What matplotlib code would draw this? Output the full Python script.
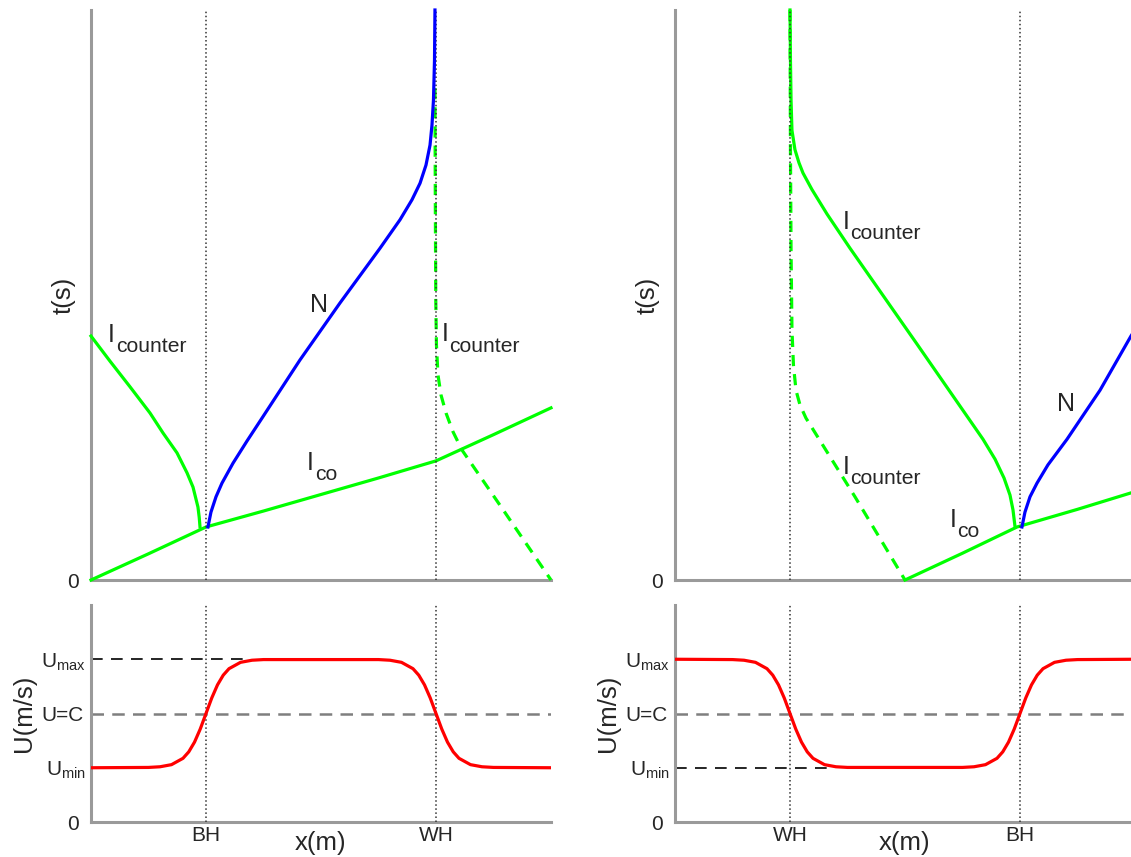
import matplotlib
matplotlib.use('Agg')
import matplotlib.pyplot as plt

plt.rcParams['font.family'] = 'Liberation Sans'
plt.rcParams['mathtext.fontset'] = 'custom'
plt.rcParams['mathtext.rm'] = 'Liberation Sans'

# ---- data (x: 0..4 with holes at 1 and 3, t: 0..10) ----
# left panel: black hole at x=1, white hole at x=3
ico_l_x = [0, 0.5, 1.0, 1.5, 2.0, 2.5, 3.0, 3.5, 4.0]
ico_l_t = [0, 0.46, 0.93, 1.21, 1.50, 1.79, 2.09, 2.55, 3.02]

cnt_l_x = [0, 0.165, 0.339, 0.513, 0.626, 0.748, 0.835, 0.887, 0.930, 0.941, 0.948]
cnt_l_t = [4.28, 3.84, 3.39, 2.93, 2.58, 2.23, 1.88, 1.63, 1.28, 1.10, 0.93]

n_l_x = [1.017, 1.043, 1.087, 1.139, 1.235, 1.357, 1.487, 1.817, 2.165, 2.513,
         2.687, 2.791, 2.861, 2.913, 2.948, 2.965, 2.978, 2.987, 2.991]
n_l_t = [0.93, 1.19, 1.46, 1.70, 2.05, 2.44, 2.84, 3.86, 4.86, 5.82,
         6.32, 6.67, 6.96, 7.28, 7.63, 7.98, 8.42, 9.12, 10.0]

cntd_l_x = [2.991, 2.994, 2.998, 3.004, 3.017, 3.043, 3.087, 3.148, 3.226, 3.557, 4.0]
cntd_l_t = [8.63, 6.67, 4.91, 4.12, 3.60, 3.25, 2.93, 2.60, 2.28, 1.31, 0]

# right panel: white hole at x=1, black hole at x=3
cnt_r_x = [1.0, 1.004, 1.009, 1.017, 1.043, 1.078, 1.113, 1.191, 1.322, 1.522,
           2.104, 2.678, 2.783, 2.861, 2.913, 2.939, 2.957]
cnt_r_t = [10.0, 9.12, 8.42, 7.89, 7.55, 7.32, 7.14, 6.85, 6.42, 5.82,
           4.14, 2.47, 2.12, 1.79, 1.49, 1.23, 0.93]

cntd_r_x = [1.0, 1.004, 1.009, 1.017, 1.030, 1.052, 1.087, 1.139, 1.565, 2.0]
cntd_r_t = [10.0, 7.54, 5.79, 4.39, 3.77, 3.33, 3.07, 2.84, 1.46, 0]

ico_r_x = [2.0, 2.5, 2.974, 3.5, 4.0]
ico_r_t = [0, 0.47, 0.93, 1.24, 1.55]

n_r_x = [3.017, 3.043, 3.087, 3.148, 3.243, 3.409, 3.696, 3.965, 4.0]
n_r_t = [0.93, 1.19, 1.46, 1.70, 2.02, 2.47, 3.33, 4.28, 4.39]

# current profile U(x): Umin=1, C=2, Umax=3
u_x = [0, 0.5, 0.6, 0.7, 0.8, 0.85, 0.9, 0.95, 1.0, 1.05, 1.1, 1.15, 1.2, 1.3, 1.4, 1.5,
       2.5, 2.6, 2.7, 2.8, 2.85, 2.9, 2.95, 3.0, 3.05, 3.1, 3.15, 3.2, 3.3, 3.4, 3.5, 4.0]
u_l = [1.0, 1.006, 1.018, 1.057, 1.174, 1.293, 1.472, 1.714, 2.0, 2.286, 2.528, 2.707, 2.826, 2.943, 2.982, 2.994,
       2.994, 2.982, 2.943, 2.826, 2.707, 2.528, 2.286, 2.0, 1.714, 1.472, 1.293, 1.174, 1.057, 1.018, 1.006, 1.0]
u_r = [3.0, 2.994, 2.982, 2.943, 2.826, 2.707, 2.528, 2.286, 2.0, 1.714, 1.472, 1.293, 1.174, 1.057, 1.018, 1.006,
       1.006, 1.018, 1.057, 1.174, 1.293, 1.472, 1.714, 2.0, 2.286, 2.528, 2.707, 2.826, 2.943, 2.982, 2.994, 3.0]

u_ticks = [0, 1, 2, 3]
u_labels = ['0', r'U$_{\mathrm{min}}$', 'U=C', r'U$_{\mathrm{max}}$']
x_labels_l = ['BH', 'WH']
x_labels_r = ['WH', 'BH']

GREEN = '#00ff00'
BLUE = '#0000ff'
RED = '#ff0000'
TXT = '#262626'

W, H = 1131, 857
fig = plt.figure(figsize=(W / 100, H / 100), dpi=100)


def px_axes(left, top, width, height):
    return fig.add_axes([left / W, (H - top - height) / H, width / W, height / H])


ax_tl = px_axes(91, 10, 460, 570)
ax_bl = px_axes(91, 605, 460, 217)
ax_tr = px_axes(675, 10, 460, 570)
ax_br = px_axes(675, 605, 460, 217)


def style(ax):
    for s in ['top', 'right']:
        ax.spines[s].set_visible(False)
    for s in ['left', 'bottom']:
        ax.spines[s].set_color('#9a9a9a')
        ax.spines[s].set_linewidth(2.2)
    ax.tick_params(length=0, labelsize=15, colors=TXT)
    ax.set_xlim(0, 4)


def label(ax, x, t, main, sub=None):
    ax.text(x, t, main, fontsize=18, color=TXT, va='baseline', ha='left')
    if sub:
        ax.annotate(sub, xy=(x, t), xytext=(5.5, -7.5), textcoords='offset points',
                    fontsize=15.2, color=TXT, va='baseline', ha='left')


def top_panel(ax):
    style(ax)
    ax.set_ylim(0, 10)
    ax.set_xticks([])
    ax.set_yticks([0])
    ax.set_yticklabels(['0'])
    ax.tick_params(axis='y', pad=9.0)
    for xv in [1, 3]:
        ax.axvline(xv, color='#333333', ls=':', lw=1.1, zorder=4)
    ax.set_ylabel('t(s)', fontsize=18.5, color=TXT)
    ax.yaxis.set_label_coords(-0.033, 0.5)


def bottom_panel(ax, u, xlabels, dash_y):
    style(ax)
    ax.set_ylim(0, 4)
    ax.set_xticks([1, 3])
    ax.set_xticklabels(xlabels)
    ax.tick_params(axis='x', pad=3.0)
    ax.set_yticks(u_ticks)
    ax.set_yticklabels(u_labels)
    for tick, p in zip(ax.yaxis.get_major_ticks(), [9.0, 4.0, 5.5, 4.0]):
        tick.set_pad(p)
    ax.axhline(2, color='#7f7f7f', lw=1.8, dashes=(5, 3.3), zorder=2)
    ax.plot([0, 1.38], [dash_y, dash_y], color='black', lw=1.2, dashes=(7, 5), zorder=2)
    for xv in [1, 3]:
        ax.axvline(xv, color='#333333', ls=':', lw=1.1, zorder=3)
    ax.plot(u_x, u, color=RED, lw=2.3, zorder=4)
    ax.set_ylabel('U(m/s)', fontsize=18.5, color=TXT)
    ax.yaxis.set_label_coords(-0.12, 0.5)
    ax.set_xlabel('x(m)', fontsize=18.5, color=TXT)
    ax.xaxis.set_label_coords(0.5, -0.04)


# left column
top_panel(ax_tl)
ax_tl.plot(cntd_l_x, cntd_l_t, color=GREEN, lw=2.3, dashes=(3.5, 2.5), zorder=3, clip_on=False)
ax_tl.plot(ico_l_x, ico_l_t, color=GREEN, lw=2.3, zorder=3, clip_on=False)
ax_tl.plot(cnt_l_x, cnt_l_t, color=GREEN, lw=2.3, zorder=3, clip_on=False)
ax_tl.plot(n_l_x, n_l_t, color=BLUE, lw=2.3, zorder=5, clip_on=False)
label(ax_tl, 0.148, 4.18, 'I', 'counter')
label(ax_tl, 3.05, 4.19, 'I', 'counter')
label(ax_tl, 1.90, 4.70, 'N')
label(ax_tl, 1.88, 1.93, 'I', 'co')

bottom_panel(ax_bl, u_l, x_labels_l, 3)

# right column
top_panel(ax_tr)
ax_tr.plot(cntd_r_x, cntd_r_t, color=GREEN, lw=2.3, dashes=(3.5, 2.5), zorder=3, clip_on=False)
ax_tr.plot(cnt_r_x, cnt_r_t, color=GREEN, lw=2.3, zorder=3, clip_on=False)
ax_tr.plot(ico_r_x, ico_r_t, color=GREEN, lw=2.3, zorder=3, clip_on=False)
ax_tr.plot(n_r_x, n_r_t, color=BLUE, lw=2.3, zorder=5, clip_on=False)
label(ax_tr, 1.46, 6.16, 'I', 'counter')
label(ax_tr, 1.46, 1.86, 'I', 'counter')
label(ax_tr, 2.39, 0.93, 'I', 'co')
label(ax_tr, 3.32, 2.96, 'N')

bottom_panel(ax_br, u_r, x_labels_r, 1)

fig.savefig('out.png', dpi=100)
